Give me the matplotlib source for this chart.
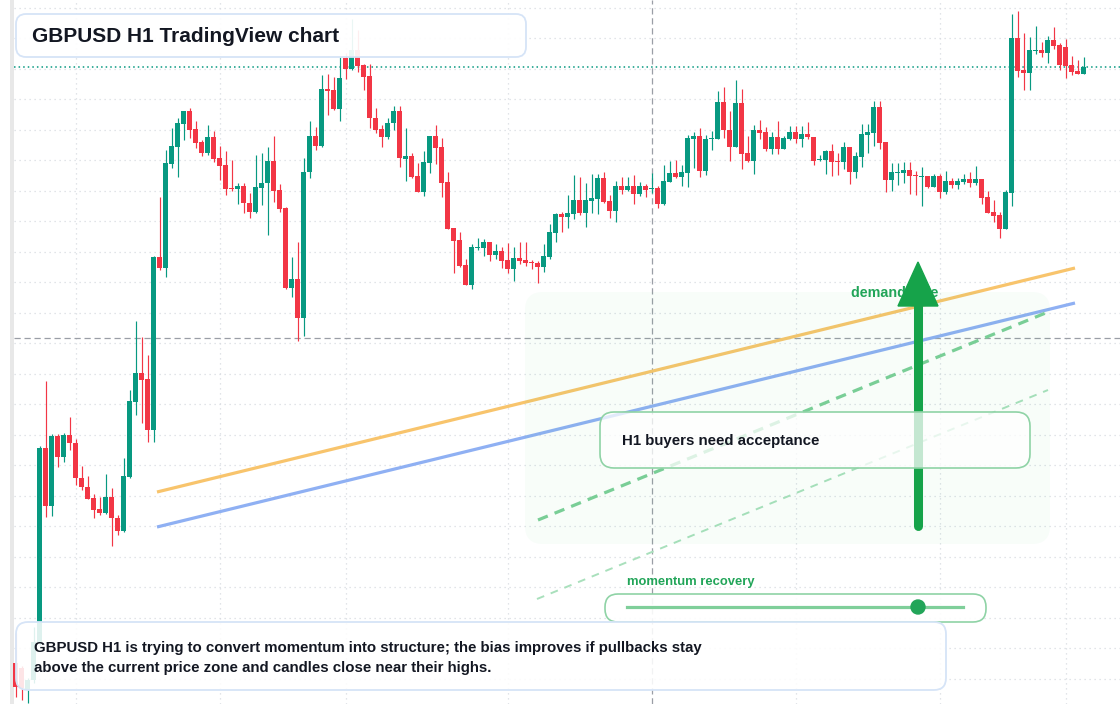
import numpy as np
import matplotlib.pyplot as plt
from matplotlib.patches import FancyBboxPatch, Circle, Polygon

# GBPUSD H1 candles (oldest first)
opens = [1.2541, 1.2536, 1.2515, 1.2524, 1.2562, 1.2756, 1.2698, 1.2768, 1.2747, 1.2769,
         1.2761, 1.2726, 1.2717, 1.2706, 1.2695, 1.2691, 1.2707, 1.2686, 1.2673, 1.2727,
         1.2802, 1.2831, 1.2825, 1.2774, 1.2947, 1.2936, 1.3040, 1.3057, 1.3080, 1.3093,
         1.3075, 1.3062, 1.3051, 1.3067, 1.3046, 1.3039, 1.3016, 1.3015, 1.3018, 1.3001,
         1.2992, 1.3016, 1.3021, 1.3043, 1.3014, 1.2996, 1.2916, 1.2925, 1.2886, 1.3032,
         1.3068, 1.3058, 1.3115, 1.3114, 1.3095, 1.3146, 1.3135, 1.3154, 1.3139, 1.3128,
         1.3086, 1.3075, 1.3067, 1.3081, 1.3093, 1.3045, 1.3048, 1.3028, 1.3012, 1.3041,
         1.3068, 1.3057, 1.3022, 1.2976, 1.2964, 1.2939, 1.2919, 1.2956, 1.2956, 1.2962,
         1.2949, 1.2953, 1.2944, 1.2935, 1.2946, 1.2944, 1.2942, 1.2941, 1.2937, 1.2947,
         1.2971, 1.2990, 1.2987, 1.2990, 1.3004, 1.2991, 1.3003, 1.3005, 1.3026, 1.3003,
         1.2993, 1.3018, 1.3014, 1.3018, 1.3010, 1.3018, 1.3015, 1.3016, 1.3000, 1.3022,
         1.3031, 1.3027, 1.3031, 1.3065, 1.3068, 1.3033, 1.3065, 1.3065, 1.3102, 1.3074,
         1.3057, 1.3101, 1.3051, 1.3043, 1.3074, 1.3072, 1.3055, 1.3067, 1.3055, 1.3065,
         1.3072, 1.3065, 1.3070, 1.3067, 1.3044, 1.3044, 1.3053, 1.3043, 1.3042, 1.3057,
         1.3032, 1.3047, 1.3069, 1.3071, 1.3097, 1.3062, 1.3024, 1.3031, 1.3031, 1.3034,
         1.3029, 1.3027, 1.3028, 1.3017, 1.3028, 1.3012, 1.3023, 1.3019, 1.3022, 1.3025,
         1.3021, 1.3025, 1.3007, 1.2992, 1.2989, 1.2975, 1.3011, 1.3166, 1.3134, 1.3131,
         1.3153, 1.3154, 1.3151, 1.3164, 1.3159, 1.3157, 1.3139, 1.3133, 1.3130]
highs = [1.2571, 1.2538, 1.2526, 1.2577, 1.2758, 1.2823, 1.2770, 1.2770, 1.2771, 1.2787,
         1.2765, 1.2738, 1.2728, 1.2710, 1.2707, 1.2730, 1.2716, 1.2689, 1.2746, 1.2814,
         1.2883, 1.2867, 1.2849, 1.2948, 1.3007, 1.3054, 1.3076, 1.3086, 1.3093, 1.3096,
         1.3083, 1.3064, 1.3079, 1.3073, 1.3058, 1.3053, 1.3044, 1.3021, 1.3021, 1.3011,
         1.3049, 1.3051, 1.3057, 1.3068, 1.3020, 1.2997, 1.2947, 1.2962, 1.3046, 1.3083,
         1.3077, 1.3129, 1.3130, 1.3127, 1.3147, 1.3151, 1.3185, 1.3174, 1.3140, 1.3140,
         1.3096, 1.3079, 1.3086, 1.3098, 1.3098, 1.3076, 1.3051, 1.3041, 1.3053, 1.3068,
         1.3079, 1.3066, 1.3032, 1.2976, 1.2972, 1.2945, 1.2960, 1.2966, 1.2965, 1.2962,
         1.2960, 1.2957, 1.2961, 1.2957, 1.2962, 1.2962, 1.2944, 1.2943, 1.2960, 1.2980,
         1.2991, 1.2992, 1.3009, 1.3029, 1.3027, 1.3021, 1.3030, 1.3030, 1.3032, 1.3009,
         1.3023, 1.3027, 1.3027, 1.3029, 1.3022, 1.3020, 1.3031, 1.3018, 1.3039, 1.3043,
         1.3044, 1.3039, 1.3069, 1.3072, 1.3076, 1.3069, 1.3073, 1.3113, 1.3117, 1.3093,
         1.3124, 1.3115, 1.3068, 1.3079, 1.3084, 1.3077, 1.3072, 1.3083, 1.3068, 1.3078,
         1.3078, 1.3078, 1.3082, 1.3067, 1.3049, 1.3054, 1.3060, 1.3051, 1.3062, 1.3057,
         1.3052, 1.3080, 1.3080, 1.3103, 1.3103, 1.3062, 1.3041, 1.3041, 1.3042, 1.3042,
         1.3033, 1.3037, 1.3028, 1.3030, 1.3030, 1.3033, 1.3026, 1.3026, 1.3030, 1.3032,
         1.3038, 1.3025, 1.3013, 1.3004, 1.2992, 1.3014, 1.3190, 1.3193, 1.3171, 1.3167,
         1.3178, 1.3162, 1.3168, 1.3177, 1.3161, 1.3165, 1.3148, 1.3144, 1.3147]
lows = [1.2507, 1.2504, 1.2501, 1.2521, 1.2559, 1.2687, 1.2688, 1.2737, 1.2742, 1.2754,
        1.2719, 1.2714, 1.2705, 1.2686, 1.2689, 1.2690, 1.2658, 1.2669, 1.2672, 1.2726,
        1.2789, 1.2781, 1.2762, 1.2762, 1.2934, 1.2927, 1.3036, 1.3027, 1.3064, 1.3066,
        1.3056, 1.3048, 1.3049, 1.3042, 1.3024, 1.3009, 1.3013, 1.3000, 1.2991, 1.2986,
        1.2991, 1.2999, 1.2969, 1.3002, 1.2992, 1.2915, 1.2907, 1.2863, 1.2868, 1.3026,
        1.3054, 1.3057, 1.3089, 1.3094, 1.3083, 1.3125, 1.3134, 1.3132, 1.3114, 1.3076,
        1.3071, 1.3057, 1.3065, 1.3074, 1.3037, 1.3023, 1.3026, 1.3012, 1.3008, 1.3031,
        1.3040, 1.3007, 1.2975, 1.2931, 1.2937, 1.2919, 1.2915, 1.2954, 1.2948, 1.2943,
        1.2945, 1.2936, 1.2931, 1.2923, 1.2940, 1.2938, 1.2935, 1.2921, 1.2932, 1.2945,
        1.2962, 1.2972, 1.2976, 1.2985, 1.2989, 1.2977, 1.2991, 1.2990, 1.3001, 1.2986,
        1.2982, 1.3010, 1.3013, 1.3000, 1.3008, 1.3007, 1.3011, 1.2996, 1.2999, 1.3022,
        1.3026, 1.3018, 1.3017, 1.3036, 1.3027, 1.3029, 1.3054, 1.3065, 1.3066, 1.3043,
        1.3057, 1.3035, 1.3042, 1.3030, 1.3065, 1.3053, 1.3050, 1.3050, 1.3055, 1.3064,
        1.3061, 1.3057, 1.3065, 1.3039, 1.3043, 1.3030, 1.3028, 1.3029, 1.3035, 1.3020,
        1.3026, 1.3037, 1.3051, 1.3058, 1.3055, 1.3012, 1.3013, 1.3019, 1.3021, 1.3010,
        1.3009, 1.2998, 1.3016, 1.3017, 1.3006, 1.3010, 1.3016, 1.3015, 1.3020, 1.3017,
        1.3019, 1.3000, 1.2991, 1.2982, 1.2966, 1.2975, 1.2998, 1.3127, 1.3114, 1.3114,
        1.3150, 1.3147, 1.3141, 1.3155, 1.3134, 1.3126, 1.3129, 1.3130, 1.3130]
closes = [1.2517, 1.2516, 1.2524, 1.2562, 1.2756, 1.2698, 1.2768, 1.2747, 1.2769, 1.2761,
          1.2726, 1.2717, 1.2705, 1.2694, 1.2691, 1.2707, 1.2686, 1.2673, 1.2728, 1.2803,
          1.2831, 1.2824, 1.2774, 1.2947, 1.2936, 1.3041, 1.3058, 1.3081, 1.3093, 1.3074,
          1.3061, 1.3051, 1.3067, 1.3045, 1.3038, 1.3015, 1.3015, 1.3018, 1.3001, 1.2992,
          1.3017, 1.3021, 1.3043, 1.3013, 1.2995, 1.2916, 1.2925, 1.2886, 1.3032, 1.3068,
          1.3058, 1.3115, 1.3113, 1.3095, 1.3126, 1.3135, 1.3154, 1.3138, 1.3127, 1.3086,
          1.3074, 1.3067, 1.3081, 1.3093, 1.3046, 1.3048, 1.3027, 1.3012, 1.3042, 1.3068,
          1.3056, 1.3021, 1.2975, 1.2963, 1.2938, 1.2919, 1.2957, 1.2957, 1.2962, 1.2949,
          1.2953, 1.2943, 1.2935, 1.2946, 1.2943, 1.2941, 1.2941, 1.2937, 1.2948, 1.2972,
          1.2990, 1.2987, 1.2991, 1.3004, 1.2991, 1.3004, 1.3006, 1.3026, 1.3002, 1.2993,
          1.3018, 1.3014, 1.3018, 1.3010, 1.3018, 1.3014, 1.3016, 1.3000, 1.3023, 1.3031,
          1.3027, 1.3032, 1.3066, 1.3068, 1.3033, 1.3065, 1.3066, 1.3102, 1.3074, 1.3057,
          1.3101, 1.3050, 1.3043, 1.3074, 1.3071, 1.3055, 1.3067, 1.3055, 1.3066, 1.3072,
          1.3065, 1.3070, 1.3067, 1.3043, 1.3045, 1.3053, 1.3042, 1.3042, 1.3057, 1.3032,
          1.3048, 1.3070, 1.3072, 1.3097, 1.3061, 1.3024, 1.3032, 1.3032, 1.3034, 1.3028,
          1.3028, 1.3028, 1.3017, 1.3028, 1.3012, 1.3023, 1.3019, 1.3023, 1.3025, 1.3021,
          1.3025, 1.3006, 1.2991, 1.2988, 1.2975, 1.3012, 1.3166, 1.3133, 1.3131, 1.3154,
          1.3154, 1.3151, 1.3164, 1.3158, 1.3139, 1.3138, 1.3132, 1.3130, 1.3137]

# time grid columns and crosshair (bar index / price)
grid_bars = [10, 34, 55, 82, 130, 154, 175]
cross_bar = 106
cross_price = 1.2866

# drawn trend lines: (bar, price) at both ends
orange_line = ([23.55, 176.55], [1.2712, 1.2936])
blue_line = ([23.55, 176.55], [1.2677, 1.2901])
momentum_line = ([87.05, 172.05], [1.2684, 1.2892])
lower_line = ([86.88, 172.05], [1.2605, 1.2814])

title = "GBPUSD H1 TradingView chart"
note = ("GBPUSD H1 is trying to convert momentum into structure; the bias improves if pullbacks stay\n"
        "above the current price zone and candles close near their highs.")

UP = "#089981"
DOWN = "#f23645"
GREEN = "#16a34a"
INK = "#131722"

plt.rcParams['font.family'] = ['Liberation Sans', 'DejaVu Sans']

fig = plt.figure(figsize=(11.2, 7.04), dpi=100)
ax = fig.add_axes([0, 0, 1, 1])
ax.set_xlim(-2.617, 184.05)
ax.set_ylim(1.25, 1.3204)
ax.axis('off')

# dotted grid
for k in range(24):
    ax.axhline(1.3196 - 0.00305 * k, xmin=14 / 1120, color="#d8dce1", lw=0.9,
               ls=(0, (1, 3)), zorder=0)
for b in grid_bars:
    ax.axvline(b, color="#d8dce1", lw=0.9, ls=(0, (1, 3)), zorder=0)
ax.axvspan(-0.95, -0.28, color="#e8e8e8", lw=0, zorder=0)

# crosshair + last price line
ax.axvline(cross_bar, color="#9a9ea6", lw=0.9, ls=(0, (5, 3)), zorder=1)
ax.axhline(cross_price, xmin=14 / 1120, color="#9a9ea6", lw=0.9, ls=(0, (5, 3)), zorder=1)
ax.axhline(closes[-1], xmin=14 / 1120, color=UP, lw=1.1, ls=(0, (1, 2)), zorder=1)

# candles
x = np.arange(len(opens))
o = np.array(opens)
h = np.array(highs)
l = np.array(lows)
c = np.array(closes)
colors = np.where(c >= o, UP, DOWN)
ax.vlines(x, l, h, colors=colors, lw=0.85, zorder=3)
ax.bar(x, np.maximum(np.abs(c - o), 0.00012), bottom=np.minimum(o, c), width=0.8,
       color=colors, lw=0, zorder=4)

# trend lines
ax.plot(*orange_line, color="#f8c46c", lw=2.3, solid_capstyle='butt', zorder=2)
ax.plot(*blue_line, color="#8fb0f3", lw=2.3, solid_capstyle='butt', zorder=2)
ax.plot(*momentum_line, color="#7ccf98", lw=2.3, ls=(0, (3.3, 2.3)), zorder=2)
ax.plot(*lower_line, color="#a9e0bc", lw=1.4, ls=(0, (4, 3.6)), zorder=2)

# overlay in pixel units
ov = fig.add_axes([0, 0, 1, 1], zorder=5)
ov.set_xlim(0, 1120)
ov.set_ylim(704, 0)
ov.axis('off')


def rbox(x0, y0, x1, y1, r, fc, ec="none", lw=1.2, z=1):
    ov.add_patch(FancyBboxPatch((x0 + r, y0 + r), x1 - x0 - 2 * r, y1 - y0 - 2 * r,
                                boxstyle=f"round,pad={r},rounding_size={r}",
                                fc=fc, ec=ec, lw=lw, zorder=z))


# demand zone
rbox(525, 292, 1050, 544, 18, (0.13, 0.77, 0.37, 0.03), z=1)
ov.text(851, 293, "demand side", fontsize=10.3, fontweight='bold', color="#22a559",
        va='center', zorder=2)

# big arrow
ov.plot([918, 918], [526, 300], color=GREEN, lw=6.5, solid_capstyle='round', zorder=3)
ov.add_patch(Polygon([(898, 306), (938, 306), (918, 262)], closed=True, color=GREEN, zorder=3))

rbox(600, 412, 1030, 468, 14, (1, 1, 1, 0.75), ec="#8fd3a6", lw=1.2, z=4)
ov.text(622, 441, "H1 buyers need acceptance", fontsize=10.8, fontweight='bold', color=INK,
        va='center', zorder=5)

# momentum slider
ov.text(627, 582, "momentum recovery", fontsize=9.4, fontweight='bold', color="#22a559",
        va='center', zorder=5)
rbox(605, 594, 986, 622, 13, (1, 1, 1, 0.9), ec="#8fd3a6", lw=1.2, z=4)
ov.plot([627, 963], [607, 607], color="#7fcf9a", lw=2.3, zorder=5)
ov.add_patch(Circle((918, 607), 7, color="#22a559", zorder=6))

# title and note boxes
rbox(16, 14, 526, 57, 10, (1, 1, 1, 0.92), ec="#d6e4f7", lw=1.3, z=6)
ov.text(32, 36, title, fontsize=15, fontweight='bold', color=INK, va='center', zorder=7)

rbox(16, 622, 946, 690, 12, (1, 1, 1, 0.87), ec="#d6e4f7", lw=1.3, z=6)
ov.text(34, 658, note, fontsize=10.8, fontweight='bold', color=INK, va='center',
        linespacing=1.5, zorder=7)

fig.savefig("out.png", dpi=100)
